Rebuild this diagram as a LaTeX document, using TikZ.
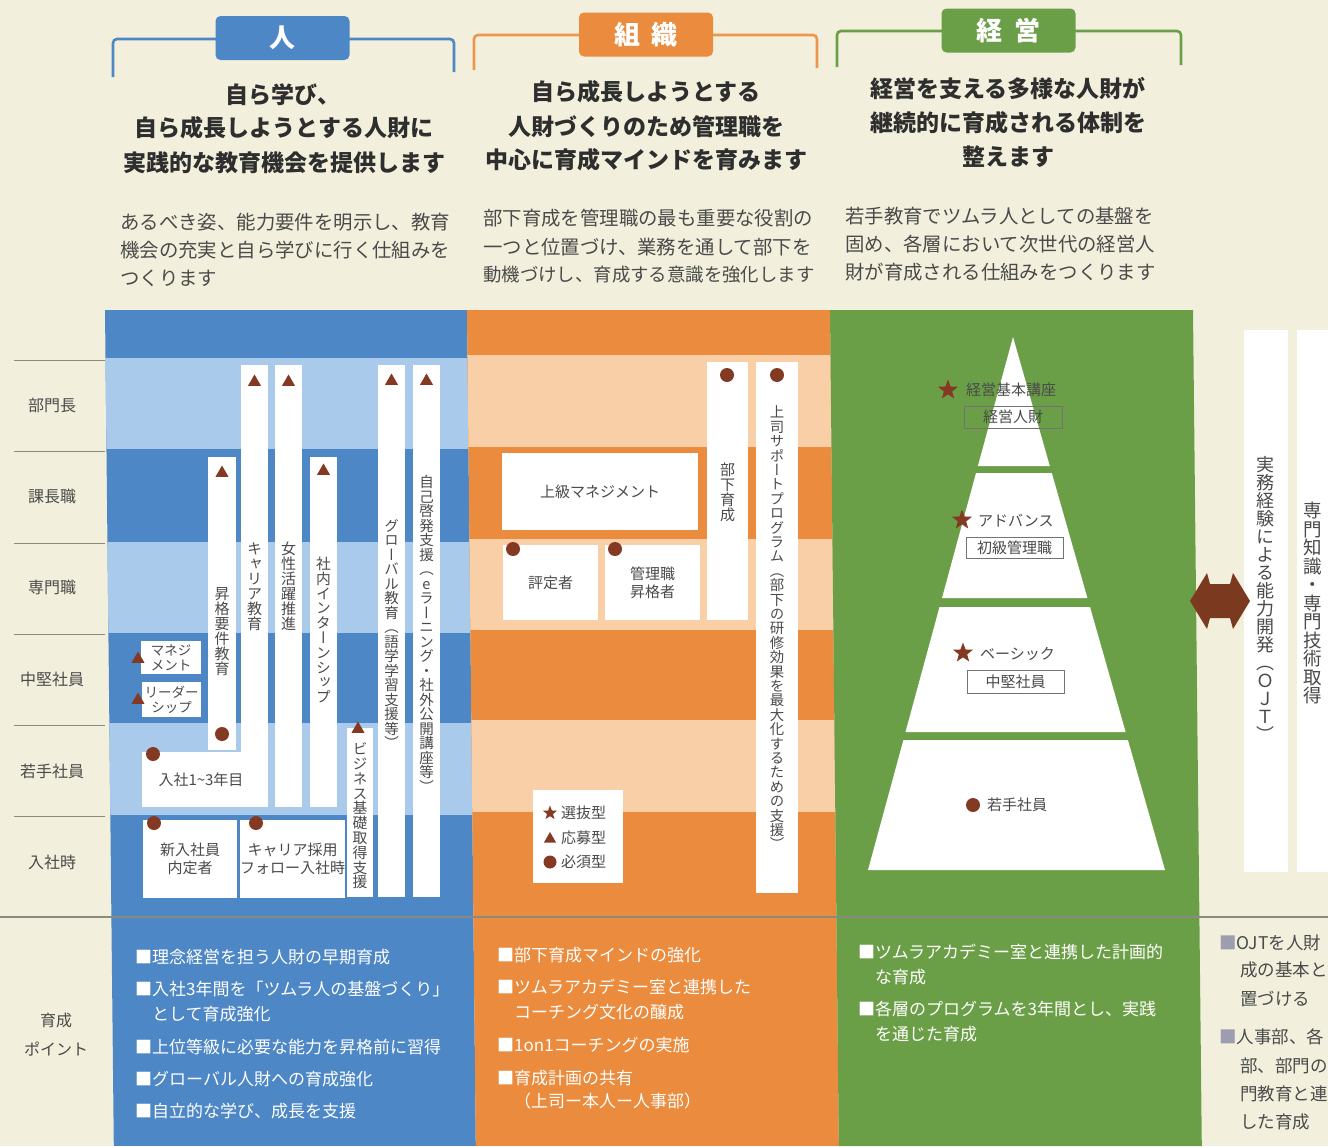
\documentclass[tikz,border=0pt]{standalone}
\usepackage{fontspec}
\setmainfont{Noto Sans CJK JP}
\newfontfamily\vjp{Noto Sans CJK JP}[RawFeature=+vert]
\usetikzlibrary{shapes.geometric}
\definecolor{bg}{HTML}{F2F0DC}
\definecolor{bdark}{HTML}{4E87C5}
\definecolor{blight}{HTML}{A9CAEA}
\definecolor{odark}{HTML}{EA8B3D}
\definecolor{olight}{HTML}{F8CFA6}
\definecolor{gr}{HTML}{6B9F47}
\definecolor{mk}{HTML}{843A22}
\definecolor{tx}{HTML}{4A4A4A}
\definecolor{hd}{HTML}{2E2E2E}
\definecolor{sq}{HTML}{9C9DAE}
\definecolor{lineg}{HTML}{8A8A80}
\definecolor{arr}{HTML}{7B3A20}
\ExplSyntaxOn
\NewDocumentCommand \vstack { m m }
 {
   \vbox:n
    {
      \vjp \fontsize{#1}{#1}\selectfont
      \dim_set:Nn \baselineskip { #1 pt }
      \dim_set:Nn \lineskiplimit { -\maxdimen }
      \tl_map_inline:nn { #2 } { \hbox_to_wd:nn { #1 pt } { \hss ##1 \hss } }
    }
 }
\ExplSyntaxOff
\begin{document}
\begin{tikzpicture}[x=1pt,y=-1pt,
  tabbox/.style={rounded corners=5pt, fill=#1, text=white, minimum width=134pt, minimum height=44pt, inner sep=0, font=\bfseries\fontsize{26}{26}\selectfont},
  brk/.style={draw=#1, line width=2.6pt, rounded corners=4pt},
  hdtext/.style={text=hd, inner sep=0, font=\bfseries\fontsize{23}{23}\selectfont},
  bdtext/.style={text=tx, inner sep=0, anchor=west, font=\fontsize{19.4}{19.4}\selectfont},
  rowlab/.style={text=tx, inner sep=0, font=\fontsize{16}{16}\selectfont},
  wbar/.style={fill=white, inner sep=0},
  wbox/.style={fill=white, inner sep=0, text=tx, align=center, font=\fontsize{15}{18}\selectfont},
  obox/.style={draw=black!55, line width=0.8pt, inner sep=0, text=tx, font=\fontsize{15}{15}\selectfont},
  mktri/.style={regular polygon, regular polygon sides=3, fill=mk, inner sep=0, minimum size=15pt},
  mkdot/.style={circle, fill=mk, inner sep=0, minimum size=14pt},
  mkstar/.style={star, star points=5, star point ratio=2.4, fill=mk, inner sep=0, minimum size=#1},
  vlab/.style={inner sep=0, text=tx},
  smtext/.style={text=tx, inner sep=0, anchor=west, font=\fontsize{15}{15}\selectfont},
  wtext/.style={text=white, inner sep=0, anchor=west, font=\fontsize{17}{17}\selectfont},
  gtext/.style={text=tx, inner sep=0, anchor=west, font=\fontsize{17.5}{17.5}\selectfont}]
\useasboundingbox (0,0) rectangle (1328,1146);
\fill[bg] (0,0) rectangle (1328,1146);

% ---------- header brackets and tabs
\draw[brk=bdark] (113,77) |- (216,39);
\draw[brk=bdark] (349,39) -| (454,72);
\node[tabbox=bdark] (tabP) at (282.5,38) {人};
\draw[brk=odark!90] (474,70) |- (579,35);
\draw[brk=odark!90] (713,35) -| (817,68);
\node[tabbox=odark] (tabO) at (646,34.5) {組\hspace{12pt}織};
\draw[brk=gr] (837,67) |- (942,31);
\draw[brk=gr] (1075,31) -| (1181,65);
\node[tabbox=gr] (tabK) at (1008.5,30.5) {経\hspace{12pt}営};

% ---------- headlines
\node[hdtext] (h11) at (283,95) {自ら学び、};
\node[hdtext] (h12) at (284,128) {自ら成長しようとする人財に};
\node[hdtext] (h13) at (284,163) {実践的な教育機会を提供します};
\node[hdtext] (h21) at (646,92) {自ら成長しようとする};
\node[hdtext] (h22) at (646,127) {人財づくりのため管理職を};
\node[hdtext] (h23) at (646,160) {中心に育成マインドを育みます};
\node[hdtext] (h31) at (1008,89) {経営を支える多様な人財が};
\node[hdtext] (h32) at (1008,123) {継続的に育成される体制を};
\node[hdtext] (h33) at (1008,157) {整えます};

% ---------- body texts
\node[bdtext] (b11) at (120,222) {あるべき姿、能力要件を明示し、教育};
\node[bdtext] (b12) at (120,250) {機会の充実と自ら学びに行く仕組みを};
\node[bdtext] (b13) at (120,278) {つくります};
\node[bdtext] (b21) at (483,218) {部下育成を管理職の最も重要な役割の};
\node[bdtext] (b22) at (483,247) {一つと位置づけ、業務を通して部下を};
\node[bdtext, font=\fontsize{18.4}{18.4}\selectfont] (b23) at (483,275) {動機づけし、育成する意識を強化します};
\node[bdtext] (b31) at (845,216) {若手教育でツムラ人としての基盤を};
\node[bdtext] (b32) at (845,244) {固め、各層において次世代の経営人};
\node[bdtext] (b33) at (845,272) {財が育成される仕組みをつくります};

% ---------- columns
\begin{scope}
\clip (105,310) -- (467,310) -- (475.8,1146) -- (113.8,1146) -- cycle;
\fill[bdark] (0,300) rectangle (1328,1146);
\fill[blight] (0,358) rectangle (1328,449);
\fill[blight] (0,542) rectangle (1328,633);
\fill[blight] (0,723) rectangle (1328,815);
\end{scope}
\begin{scope}
\clip (467,310) -- (830,310) -- (838.8,1146) -- (475.8,1146) -- cycle;
\fill[odark] (0,300) rectangle (1328,1146);
\fill[olight] (0,355) rectangle (1328,447);
\fill[olight] (0,539) rectangle (1328,630);
\fill[olight] (0,720) rectangle (1328,812);
\end{scope}
\fill[gr] (830,310) -- (1193,310) -- (1201.8,1146) -- (838.8,1146) -- cycle;

% separator line
\draw[lineg, line width=1.2pt] (0,917) -- (1328,917);

% ---------- row labels
\foreach \yy in {360,451,543,634,725,816} \draw[lineg, line width=0.9pt] (14,\yy) -- (105,\yy);
\node[rowlab] (r1) at (52,405) {部門長};
\node[rowlab] (r2) at (52,496) {課長職};
\node[rowlab] (r3) at (52,587) {専門職};
\node[rowlab] (r4) at (52,679) {中堅社員};
\node[rowlab] (r5) at (52,771) {若手社員};
\node[rowlab] (r6) at (52,862) {入社時};
\node[rowlab] (r7) at (56,1020) {育成};
\node[rowlab] (r8) at (56,1049) {ポイント};

% ---------- blue column contents
\node[wbar, minimum width=28pt, minimum height=293pt] (barA) at (222,603.5) {};
\node[wbar, minimum width=27pt, minimum height=442pt] (barB) at (254.5,586) {};
\node[wbar, minimum width=27pt, minimum height=442pt] (barC) at (288.5,586) {};
\node[wbar, minimum width=27pt, minimum height=350pt] (barD) at (323.5,632) {};
\node[wbar, minimum width=26pt, minimum height=169pt] (barE) at (360,812.5) {};
\node[wbar, minimum width=27pt, minimum height=532pt] (barF) at (391.5,631) {};
\node[wbar, minimum width=27pt, minimum height=532pt] (barG) at (426.5,631) {};
\node[vlab] (tA) at (222,632) {\vstack{15}{昇格要件教育}};
\node[vlab] (tB) at (254.5,587) {\vstack{15}{キャリア教育}};
\node[vlab] (tC) at (288.5,586) {\vstack{15}{女性活躍推進}};
\node[vlab] (tD) at (323.5,630) {\vstack{14.8}{社内インターンシップ}};
\node[vlab] (tE) at (360,816) {\vstack{14.8}{ビジネス基礎取得支援}};
\node[vlab] (tF) at (391.5,634) {\vstack{14.5}{グローバル教育（語学学習支援等）}};
\node[vlab] (tG) at (426.5,634) {\vstack{14.5}{自己啓発支援（eラーニング・社外公開講座等）}};
\node[mktri] (mA) at (222,473) {};
\node[mkdot] (mA2) at (222,734) {};
\node[mktri] (mB) at (254.5,382) {};
\node[mktri] (mC) at (288.5,382) {};
\node[mktri] (mD) at (323.5,471) {};
\node[mktri] (mE) at (358,729) {};
\node[mktri] (mF) at (391.5,381) {};
\node[mktri] (mG) at (426.5,381) {};

\node[wbox, minimum width=60pt, minimum height=33pt, font=\fontsize{13.5}{15}\selectfont] (bxM) at (171,657.5) {マネジ\\メント};
\node[wbox, minimum width=59pt, minimum height=35pt, font=\fontsize{13.5}{15}\selectfont] (bxL) at (171.5,699.5) {リーダー\\シップ};
\node[mktri] (mM) at (138,659) {};
\node[mktri] (mL) at (138,700) {};
\node[wbox, minimum width=118pt, minimum height=55pt] (bx13) at (201,779.5) {入社1{\char"7E}3年目};
\node[mkdot] (d13) at (153,754) {};
\node[wbox, minimum width=94pt, minimum height=78pt] (bxN) at (190,859) {新入社員\\内定者};
\node[mkdot] (dN) at (154,823) {};
\node[wbox, minimum width=95pt, minimum height=78pt] (bxC) at (292.5,859) {キャリア採用\\フォロー入社時};
\node[mkdot] (dC) at (256,823) {};

% ---------- orange column contents
\node[wbox, minimum width=196pt, minimum height=77pt] (bxJ) at (600,491.5) {上級マネジメント};
\node[wbox, minimum width=95pt, minimum height=75pt] (bxH) at (550.5,582.5) {評定者};
\node[mkdot] (dH) at (513,549) {};
\node[wbox, minimum width=95pt, minimum height=75pt] (bxS) at (652.5,582.5) {管理職\\昇格者};
\node[mkdot] (dS) at (615,549) {};
\node[wbar, minimum width=41pt, minimum height=258pt] (barO1) at (727.5,491) {};
\node[vlab] (tO1) at (727.5,492) {\vstack{15}{部下育成}};
\node[mkdot] (dO1) at (727,375) {};
\node[wbar, minimum width=42pt, minimum height=531pt] (barO2) at (777,627.5) {};
\node[vlab] (tO2) at (777,628) {\vstack{14.4}{上司サポートプログラム（部下の研修効果を最大化するための支援）}};
\node[mkdot] (dO2) at (777,375) {};

\node[wbar, minimum width=90pt, minimum height=93pt] (lg) at (578,836.5) {};
\node[mkstar=15pt] (lgS) at (550,813) {};
\node[smtext] (lgSt) at (561,813) {選抜型};
\node[mktri, minimum size=14pt] (lgT) at (550,839) {};
\node[smtext] (lgTt) at (561,838) {応募型};
\node[mkdot, minimum size=13pt] (lgD) at (550,862) {};
\node[smtext] (lgDt) at (561,862) {必須型};

% ---------- pyramid
\fill[white] (1013,337) -- (1049.8,466) -- (977.9,466) -- cycle;
\fill[white] (976,473) -- (1051.8,473) -- (1087.4,598) -- (942,598) -- cycle;
\fill[white] (939.5,607) -- (1090,607) -- (1125.6,732) -- (905.5,732) -- cycle;
\fill[white] (903.4,740) -- (1127.9,740) -- (1165,870) -- (868,870) -- cycle;
\node[mkstar=21pt] (s1) at (948,390) {};
\node[smtext] (s1t) at (966,390) {経営基本講座};
\node[obox, minimum width=98pt, minimum height=22pt] (p1) at (1013,417) {経営人財};
\node[mkstar=21pt] (s2) at (962,520) {};
\node[smtext] (s2t) at (978,521) {アドバンス};
\node[obox, minimum width=97pt, minimum height=21pt] (p2) at (1014.5,547.5) {初級管理職};
\node[mkstar=21pt] (s3) at (963,653) {};
\node[smtext] (s3t) at (980,654) {ベーシック};
\node[obox, minimum width=97pt, minimum height=23pt] (p3) at (1015.5,681.5) {中堅社員};
\node[mkdot] (s4) at (973,805) {};
\node[smtext] (s4t) at (987,805) {若手社員};

% ---------- right side
\node[wbar, minimum width=44pt, minimum height=542pt] (barR1) at (1266,601) {};
\node[wbar, minimum width=48pt, minimum height=542pt] (barR2) at (1321,601) {};
\node[vlab] (tR1) at (1265,599) {\vstack{18}{実務経験による能力開発（ＯＪＴ）}};
\node[vlab] (tR2) at (1313,603) {\vstack{18.5}{専門知識・専門技術取得}};
\fill[arr] (1190,601) -- (1207,573) -- (1210,584) -- (1230,584) -- (1233,573) -- (1250,601)
  -- (1233,629) -- (1230,618) -- (1210,618) -- (1207,629) -- cycle;

% ---------- bottom points
\node[wtext] (w11) at (135,957) {■理念経営を担う人財の早期育成};
\node[wtext] (w12) at (135,989) {■入社3年間を「ツムラ人の基盤づくり」};
\node[wtext] (w13) at (152,1014) {として育成強化};
\node[wtext] (w14) at (135,1047) {■上位等級に必要な能力を昇格前に習得};
\node[wtext] (w15) at (135,1079) {■グローバル人財への育成強化};
\node[wtext] (w16) at (135,1111) {■自立的な学び、成長を支援};
\node[wtext] (w21) at (497,955) {■部下育成マインドの強化};
\node[wtext] (w22) at (497,987) {■ツムラアカデミー室と連携した};
\node[wtext] (w23) at (514,1012) {コーチング文化の醸成};
\node[wtext] (w24) at (497,1045) {■1on1コーチングの実施};
\node[wtext] (w25) at (497,1078) {■育成計画の共有};
\node[wtext] (w26) at (514,1101) {（上司ー本人ー人事部）};
\node[wtext] (w31) at (858,952) {■ツムラアカデミー室と連携した計画的};
\node[wtext] (w32) at (875,977) {な育成};
\node[wtext] (w33) at (858,1009) {■各層のプログラムを3年間とし、実践};
\node[wtext] (w34) at (875,1034) {を通じた育成};
\node[gtext] (g1) at (1219,943) {{\color{sq}■}OJTを人財};
\node[gtext] (g2) at (1240,970) {成の基本と};
\node[gtext] (g3) at (1240,999) {置づける};
\node[gtext] (g4) at (1219,1037) {{\color{sq}■}人事部、各};
\node[gtext] (g5) at (1240,1066) {部、部門の};
\node[gtext] (g6) at (1240,1094) {門教育と連};
\node[gtext] (g7) at (1240,1122) {した育成};
\end{tikzpicture}
\end{document}
